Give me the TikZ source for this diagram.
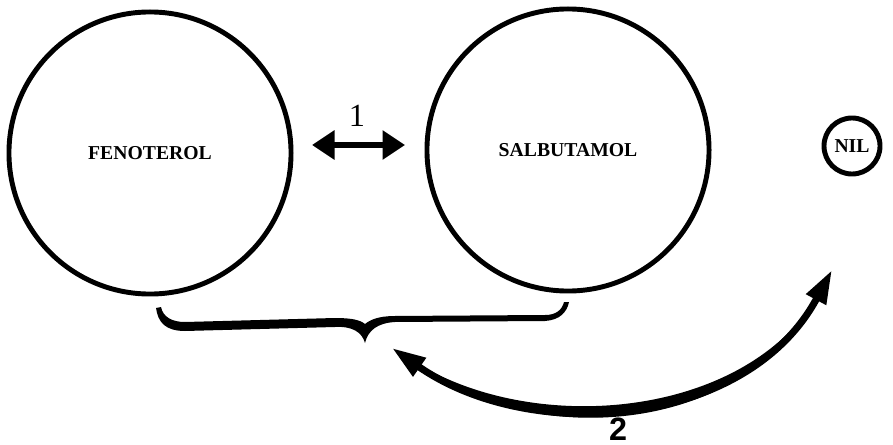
\documentclass[tikz,border=0pt]{standalone}
\usepackage{fontspec}
\setmainfont{Liberation Serif}
\newfontfamily\labelsans{Liberation Sans}
\usetikzlibrary{arrows.meta,calc}

\tikzset{
  drug/.style={draw=black, circle, line width=3.5pt, inner sep=0pt,
    font=\fontsize{14}{14}\selectfont\bfseries},
  swaparrow/.style={line width=4.5pt,
    {Triangle[length=16pt,width=20pt]}-{Triangle[length=16pt,width=20pt]}},
  bendarrow/.style={line width=5pt,
    {Triangle[length=24pt,width=15pt]}-{Triangle[length=24pt,width=15pt]}}
}

\begin{document}
\begin{tikzpicture}[x=0.025cm, y=-0.025cm]
  \useasboundingbox (0,0) rectangle (893,445);
  \node[drug, minimum size=7.05cm] (fen) at (150,153) {FENOTEROL};
  \node[drug, minimum size=7.05cm] (sal) at (568,150) {SALBUTAMOL};
  \node[drug, minimum size=1.4cm] (nil) at (852,146) {NIL};
  \coordinate (sw1) at (312,145);
  \coordinate (sw2) at (405,145);
  \draw[swaparrow] (sw1) -- (sw2);
  \node[anchor=base, inner sep=0pt, font=\fontsize{23}{23}\selectfont] (one) at (357,127) {1};
  \fill (156,308) .. controls (158,322) and (165,331) .. (185,331) -- (335,327)
    .. controls (352,326) and (362,332) .. (365,343)
    .. controls (368,330) and (378,323) .. (395,322) -- (545,321)
    .. controls (560,320) and (567,312) .. (569,302) -- (564,302)
    .. controls (562,310) and (556,315) .. (545,315) -- (395,316)
    .. controls (378,316) and (370,320) .. (365,324)
    .. controls (360,320) and (352,318) .. (335,318) -- (185,322)
    .. controls (172,322) and (163,317) .. (161,307) -- cycle;
  \coordinate (br) at (392,348);
  \coordinate (nl) at (832,270);
  \fill ($(br)+(20,12)$) .. controls (531,453) and (747,436) .. ($(nl)+(-12,22)$)
    .. controls (747,420) and (531,437) .. ($(br)+(20,12)$) -- cycle;
  \draw[bendarrow] (br) .. controls (531,445) and (747,428) .. (nl);
  \node[anchor=base, inner sep=0pt, font=\labelsans\bfseries\fontsize{23}{23}\selectfont] (two) at (618,440) {2};
\end{tikzpicture}
\end{document}
